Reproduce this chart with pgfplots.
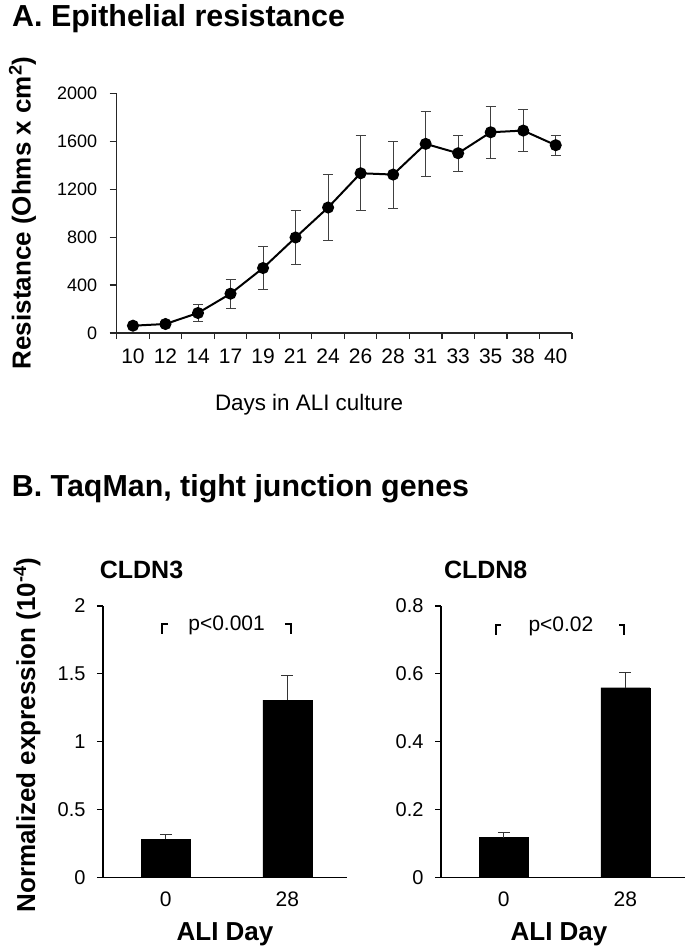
\documentclass[border=0pt]{standalone}
\usepackage{fontspec}
\setmainfont{Liberation Sans}
\setsansfont{Liberation Sans}
\usepackage{pgfplots}
\pgfplotsset{compat=1.18}

\newcommand{\fs}[1]{\fontsize{#1}{#1}\selectfont}

\pgfplotsset{
  barax/.style={
    width=244pt, height=271.3pt, scale only axis,
    xmin=-0.516, xmax=1.49, ymin=0,
    axis x line=bottom, axis y line=left,
    axis line style={-, line width=1.2pt},
    tick align=outside, major tick length=6pt,
    tick style={line width=1.2pt, black},
    xtick={0,1}, xticklabels={0,28},
    major x tick style={draw=none},
    xticklabel style={font=\fs{21}, text height=0.72em, text depth=0pt, yshift=-12pt},
    yticklabel style={font=\fs{20}, xshift=-8pt},
    /pgf/number format/assume math mode=true,
    clip=false,
  },
  barplot/.style={
    ybar, fill=black, draw=black, bar width=49pt,
    error bars/.cd, y dir=plus, y explicit,
    error bar style={line width=1pt, black!80},
    error mark options={rotate=90, mark size=6pt, line width=1pt, black!80},
  },
}

\begin{document}
\begin{tikzpicture}[x=1pt,y=1pt]
\useasboundingbox (0,0) rectangle (685,-947);

% panel titles and free labels
\node[anchor=base west, inner sep=0, font=\bfseries\fs{30.4}] at (12,-26.7) {A. Epithelial resistance};
\node[anchor=base west, inner sep=0, font=\bfseries\fs{30.4}] at (11.7,-496.7) {B. TaqMan, tight junction genes};
\node[rotate=90, inner sep=0, font=\bfseries\fs{26}] at (22.5,-213) {Resistance (Ohms x cm\textsuperscript{2})};
\node[anchor=base, inner sep=0, font=\fs{22.4}] at (309,-410) {Days in ALI culture};
\node[rotate=90, inner sep=0, font=\bfseries\fs{26}] at (27,-735) {Normalized expression (10\textsuperscript{-4})};
\node[anchor=base, inner sep=0, font=\bfseries\fs{25}] at (141.5,-578) {CLDN3};
\node[anchor=base, inner sep=0, font=\bfseries\fs{25}] at (485.7,-578) {CLDN8};
\node[anchor=base, inner sep=0, font=\bfseries\fs{26}] at (225,-940) {ALI Day};
\node[anchor=base, inner sep=0, font=\bfseries\fs{26}] at (559,-940) {ALI Day};

% A: resistance over time
\begin{axis}[
  at={(116.7pt,-333pt)}, anchor=south west,
  width=455.3pt, height=239.7pt, scale only axis,
  xmin=-0.5, xmax=13.5, ymin=0, ymax=2000,
  axis x line=bottom, axis y line=left,
  axis line style={-, line width=1.2pt, black!85},
  tick align=outside,
  major tick length=7pt, minor tick length=6pt,
  tick style={line width=1.2pt, black!85},
  xtick={0,...,13},
  xticklabels={10,12,14,17,19,21,24,26,28,31,33,35,38,40},
  major x tick style={draw=none},
  minor xtick={-0.5,0.5,...,13.5},
  ytick={0,400,...,2000},
  /pgf/number format/assume math mode=true,
  /pgf/number format/1000 sep={},
  xticklabel style={font=\fs{21}, text height=0.72em, text depth=0pt, yshift=-13pt},
  yticklabel style={font=\fs{18}, xshift=-9pt},
  clip=false,
]
\addplot[black, line width=2pt, mark=*, mark size=5pt,
  error bars/.cd, y dir=both, y explicit,
  error bar style={line width=1pt, black!75},
  error mark options={rotate=90, mark size=5pt, line width=1pt, black!75}]
coordinates {
  (0,61)   +- (0,15)
  (1,75)   +- (0,20)
  (2,167)  +- (0,68)
  (3,328)  +- (0,120)
  (4,542)  +- (0,178)
  (5,797)  +- (0,228)
  (6,1047) +- (0,278)
  (7,1333) +- (0,313)
  (8,1322) +- (0,280)
  (9,1578) +- (0,272)
  (10,1500) +- (0,152)
  (11,1675) +- (0,215)
  (12,1689) +- (0,177)
  (13,1567) +- (0,83)
};
\end{axis}

% B left: CLDN3
\begin{axis}[barax, at={(103pt,-877.3pt)}, anchor=south west,
  ymax=2, ytick={0,0.5,1,1.5,2}]
\addplot[barplot] coordinates {(0,0.280) +- (0,0.037) (1,1.307) +- (0,0.182)};
\addplot[black, line width=2pt, line join=miter] coordinates {(0.02,1.867) (-0.03,1.867) (-0.03,1.79)};
\addplot[black, line width=2pt, line join=miter] coordinates {(0.98,1.867) (1.03,1.867) (1.03,1.79)};
\node[anchor=base, inner sep=0, font=\fs{21}] at (axis cs:0.5,1.823) {p<0.001};
\end{axis}

% B right: CLDN8
\begin{axis}[barax, at={(441pt,-877.3pt)}, anchor=south west,
  ymax=0.8, ytick={0,0.2,0.4,0.6,0.8}]
\addplot[barplot] coordinates {(0,0.117) +- (0,0.014) (1,0.559) +- (0,0.044)};
\addplot[black, line width=2pt, line join=miter] coordinates {(-0.02,0.745) (-0.065,0.745) (-0.065,0.716)};
\addplot[black, line width=2pt, line join=miter] coordinates {(0.95,0.745) (0.99,0.745) (0.99,0.716)};
\node[anchor=base, inner sep=0, font=\fs{21}] at (axis cs:0.47,0.724) {p<0.02};
\end{axis}
\end{tikzpicture}
\end{document}
